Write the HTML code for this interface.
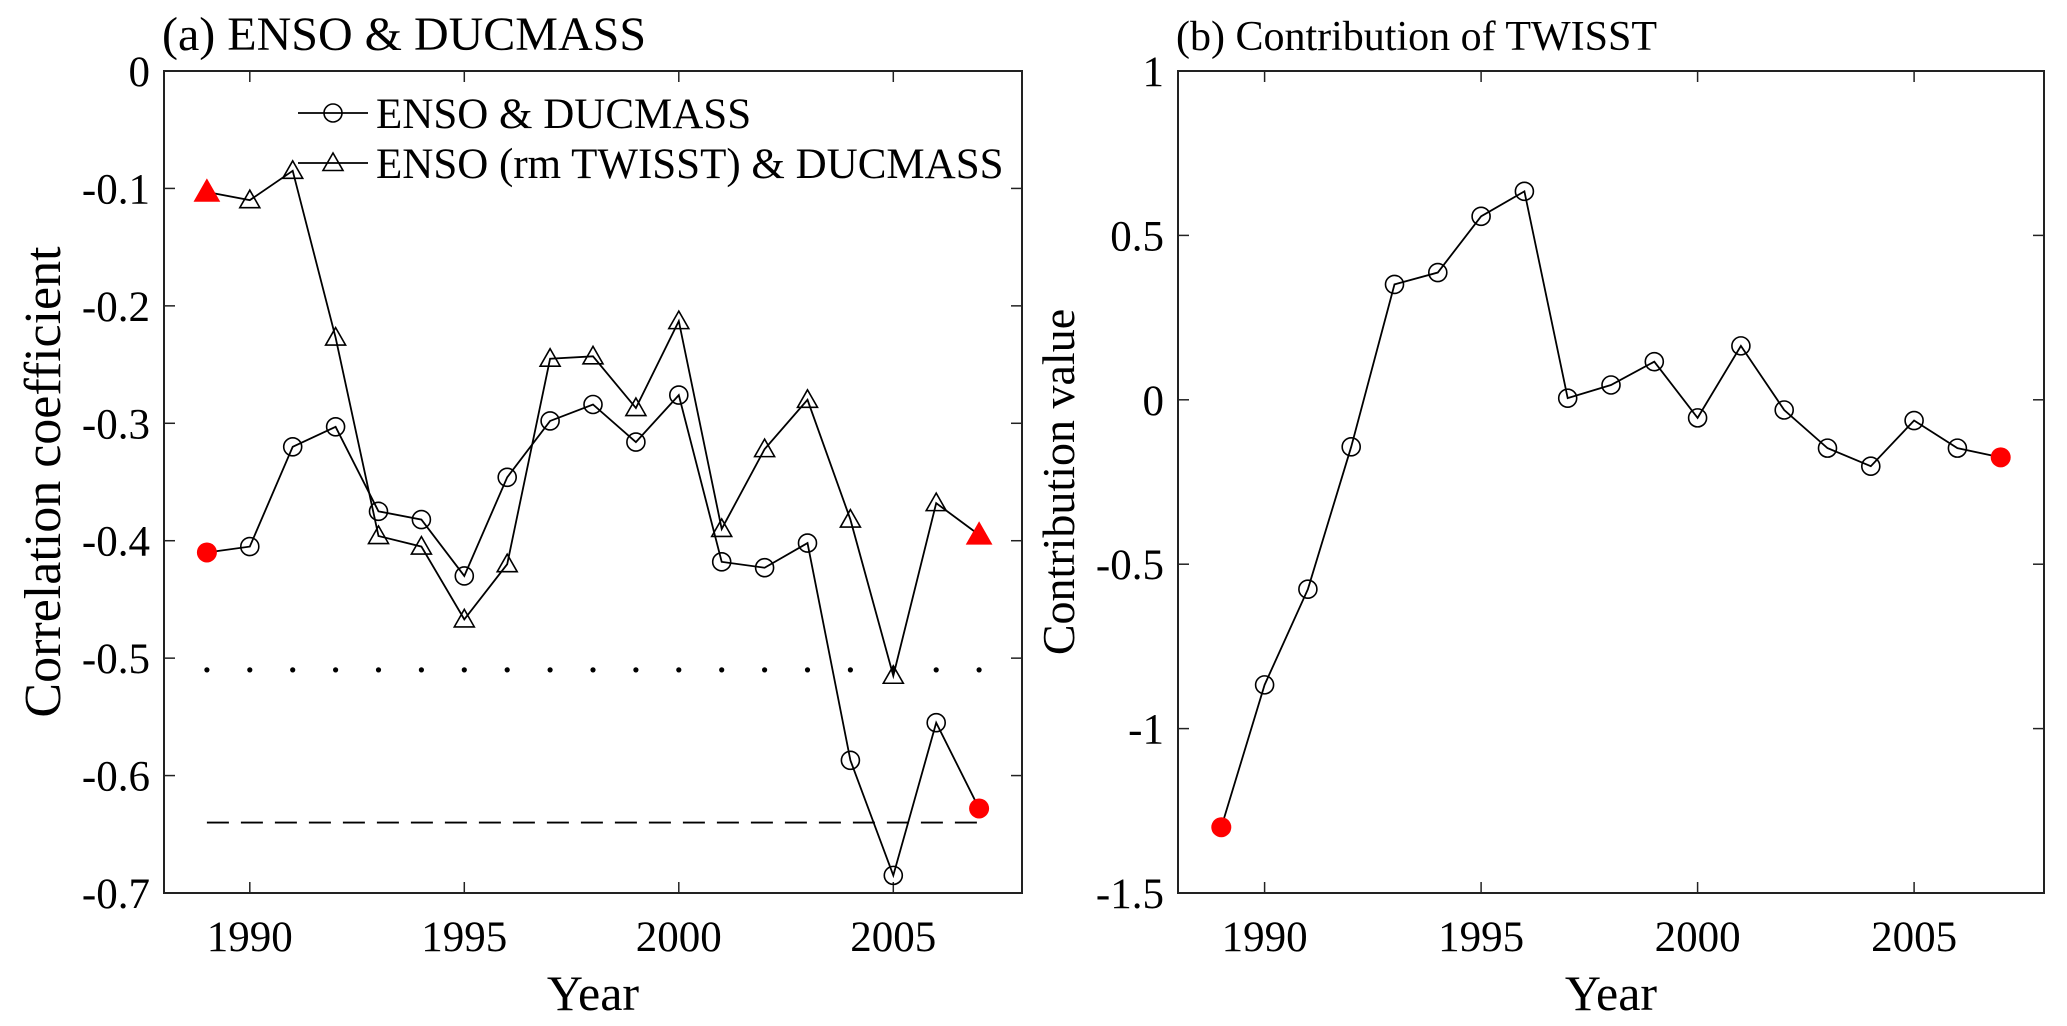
<!DOCTYPE html>
<html><head><meta charset="utf-8"><style>
html,body{margin:0;padding:0;background:#fff}
svg{display:block;font-family:"Liberation Serif",serif}
</style></head><body>
<svg id="fig" width="2067" height="1026" viewBox="0 0 2067 1026"></svg>
<script>
const years=[1989,1990,1991,1992,1993,1994,1995,1996,1997,1998,1999,2000,2001,2002,2003,2004,2005,2006,2007];
const ensoDuc=[-0.41,-0.405,-0.32,-0.303,-0.375,-0.382,-0.43,-0.346,-0.298,-0.284,-0.316,-0.276,-0.418,-0.423,-0.402,-0.587,-0.685,-0.555,-0.628];
const ensoRmDuc=[-0.103,-0.11,-0.085,-0.227,-0.396,-0.405,-0.467,-0.42,-0.245,-0.243,-0.287,-0.213,-0.39,-0.322,-0.28,-0.382,-0.515,-0.368,-0.395];
const contrib=[-1.30,-0.867,-0.576,-0.143,0.351,0.387,0.558,0.634,0.005,0.045,0.116,-0.055,0.164,-0.031,-0.147,-0.202,-0.063,-0.147,-0.175];
const xTicks=[1990,1995,2000,2005];
const yTicksA=[0,-0.1,-0.2,-0.3,-0.4,-0.5,-0.6,-0.7];
const yTickLabelsA=["0","-0.1","-0.2","-0.3","-0.4","-0.5","-0.6","-0.7"];
const yTicksB=[1,0.5,0,-0.5,-1,-1.5];
const yTickLabelsB=["1","0.5","0","-0.5","-1","-1.5"];
const sigDotted=[-0.51];
const sigDashed=[-0.64];

const NS="http://www.w3.org/2000/svg";
const svg=document.getElementById('fig');
function mk(tag,attrs,parent,text){const e=document.createElementNS(NS,tag);for(const k in attrs)e.setAttribute(k,attrs[k]);if(text!==undefined)e.textContent=text;(parent||svg).appendChild(e);return e;}

function panel(P){
  const g=mk('g',{});
  
  
  const X=v=>P.x0+(v-1988)/(20)*(P.x1-P.x0);
  const Y=v=>P.y0+(P.ymax-v)/(P.ymax-P.ymin)*(P.y1-P.y0);
  const box=mk('rect',{x:P.x0,y:P.y0,width:P.x1-P.x0,height:P.y1-P.y0,fill:'none',stroke:'#222','stroke-width':2},g);
  
  
  xTicks.forEach(t=>{
    mk('line',{x1:X(t),x2:X(t),y1:P.y1,y2:P.y1-11,stroke:'#222','stroke-width':1.5},g);
    mk('line',{x1:X(t),x2:X(t),y1:P.y0,y2:P.y0+11,stroke:'#222','stroke-width':1.5},g);
    const tl=mk('text',{x:X(t),y:P.y1+58,'font-size':43,'text-anchor':'middle'},g,String(t));
    
    
  });
  P.yt.forEach((t,i)=>{
    mk('line',{x1:P.x0,x2:P.x0+11,y1:Y(t),y2:Y(t),stroke:'#222','stroke-width':1.5},g);
    mk('line',{x1:P.x1,x2:P.x1-11,y1:Y(t),y2:Y(t),stroke:'#222','stroke-width':1.5},g);
    const tl=mk('text',{x:P.x0-14,y:Y(t)+15,'font-size':43,'text-anchor':'end'},g,P.ytl[i]);
    
    
  });
  const xt=mk('text',{x:(P.x0+P.x1)/2,y:1010,'font-size':50,'text-anchor':'middle'},g,'Year');
  
  
  const cy=(P.y0+P.y1)/2;
  const yt=mk('text',{x:P.ytx,y:cy,'font-size':P.ytfs,'text-anchor':'middle',transform:`rotate(-90 ${P.ytx} ${cy})`},g,P.ytitle);
  
  
  const ti=mk('text',{x:P.x0-2,y:50,'font-size':P.tfs},g,P.title);
  
  
  return {g,X,Y};
}
function series(g,X,Y,vals,marker,name){
  const sg=mk('g',{},g);
  
  
  mk('polyline',{points:years.map((y,i)=>X(y)+','+Y(vals[i])).join(' '),fill:'none',stroke:'#000','stroke-width':1.8},sg);
  years.forEach((y,i)=>{
    const red=(i===0||i===years.length-1);
    const cx=X(y),cy=Y(vals[i]);
    let m;
    if(marker==='circle'){
      m=red?mk('circle',{cx,cy,r:10,fill:'#f00'},sg):mk('circle',{cx,cy,r:9,fill:'none',stroke:'#000','stroke-width':1.6},sg);
    }else{
      const s=red?12:10;
      m=mk('polygon',{points:`${cx},${cy-s} ${cx-s},${cy+s*0.75} ${cx+s},${cy+s*0.75}`,fill:red?'#f00':'none',stroke:red?'#f00':'#000','stroke-width':1.6},sg);
    }
    
    
  });
}
const A=panel({name:'panel-a',x0:164,x1:1022,y0:71,y1:893,ymax:0,ymin:-0.7,yt:yTicksA,ytl:yTickLabelsA,ytitle:'Correlation coefficient',ytx:60,ytfs:52,title:'(a) ENSO & DUCMASS',tfs:48});
sigDotted.forEach(v=>{
  years.forEach(y=>{
    const d=mk('circle',{cx:A.X(y),cy:A.Y(v),r:2.6,fill:'#000'},A.g);
    
    
  });
});
sigDashed.forEach(v=>{
  const l=mk('line',{x1:A.X(1989),x2:A.X(2007),y1:A.Y(v),y2:A.Y(v),stroke:'#000','stroke-width':1.8,'stroke-dasharray':'22 12'},A.g);
  
  
});
series(A.g,A.X,A.Y,ensoDuc,'circle','series-enso-ducmass');
series(A.g,A.X,A.Y,ensoRmDuc,'triangle','series-enso-rm-twisst');
const lg=mk('g',{},A.g);


mk('line',{x1:298,x2:368,y1:113,y2:113,stroke:'#000','stroke-width':1.8},lg);
mk('circle',{cx:333,cy:113,r:9,fill:'none',stroke:'#000','stroke-width':1.6},lg);
const l1=mk('text',{x:376,y:128,'font-size':43},lg,'ENSO & DUCMASS');


mk('line',{x1:298,x2:368,y1:163,y2:163,stroke:'#000','stroke-width':1.8},lg);
mk('polygon',{points:'333,153 323,170.5 343,170.5',fill:'none',stroke:'#000','stroke-width':1.6},lg);
const l2=mk('text',{x:376,y:178,'font-size':43},lg,'ENSO (rm TWISST) & DUCMASS');



const B=panel({name:'panel-b',x0:1178,x1:2044,y0:71,y1:893,ymax:1,ymin:-1.5,yt:yTicksB,ytl:yTickLabelsB,ytitle:'Contribution value',ytx:1074,ytfs:46,title:'(b) Contribution of TWISST',tfs:42});
series(B.g,B.X,B.Y,contrib,'circle','series-contribution');
</script>
</body></html>
